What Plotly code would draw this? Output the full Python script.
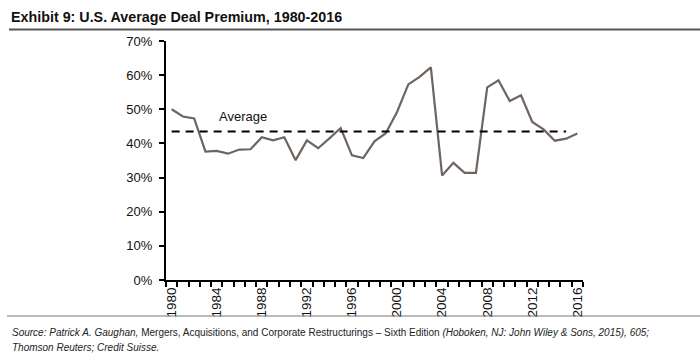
import plotly.graph_objects as go

years = list(range(1980, 2017))
premium = [50.0, 47.9, 47.3, 37.6, 37.8, 37.0, 38.2, 38.3, 41.8, 40.9, 41.8, 35.1,
           40.9, 38.6, 41.5, 44.5, 36.5, 35.7, 40.6, 43.0, 49.2, 57.3, 59.5, 62.3,
           30.6, 34.3, 31.4, 31.4, 56.4, 58.5, 52.4, 54.1, 46.3, 44.1, 40.8, 41.4, 42.9]
average = 43.5
avg_span = [1980, 2015]
tick_years = list(range(1980, 2017, 4))
y_ticks = [0, 10, 20, 30, 40, 50, 60, 70]
y_labels = [f"{v}%" for v in y_ticks]

FONT = "Liberation Sans, Arial, sans-serif"
L, R, T, B = 166, 117, 41, 84
PW, PH = 700 - L - R, 364 - T - B


def px_x(x):
    return (x - L) / PW


def px_y(y):
    return (364 - B - y) / PH


fig = go.Figure()
fig.add_trace(go.Scatter(x=years, y=premium, mode="lines",
                         line=dict(color="#6e6560", width=2.2), showlegend=False))
fig.add_trace(go.Scatter(x=avg_span, y=[average, average], mode="lines",
                         line=dict(color="#000000", width=2.2, dash="8px,6px"),
                         showlegend=False))

fig.add_annotation(x=1984, y=average + 4.3, text="Average", showarrow=False,
                   xanchor="left", font=dict(family=FONT, size=13, color="#111"))

fig.update_layout(
    width=700, height=364,
    margin=dict(l=L, r=R, t=T, b=B),
    plot_bgcolor="white", paper_bgcolor="white",
    font=dict(family=FONT, color="#111"),
    xaxis=dict(range=[1979.5, 2016.5], tickmode="array", tickvals=tick_years,
               ticktext=[str(y) for y in tick_years], tickangle=-90,
               ticks="", showgrid=False, zeroline=False,
               showline=True, linecolor="black", linewidth=2,
               tickfont=dict(family=FONT, size=13.5, color="#111"),
               minor=dict(ticks="outside", tick0=1979.5, dtick=1, ticklen=5,
                          tickwidth=2, tickcolor="black", showgrid=False)),
    yaxis=dict(range=[0, 70], tickmode="array", tickvals=y_ticks, ticktext=y_labels,
               ticks="outside", ticklen=5, tickwidth=2, tickcolor="black",
               ticklabelstandoff=4,
               showgrid=False, zeroline=False, showline=True, linecolor="black",
               linewidth=2, tickfont=dict(family=FONT, size=13, color="#111")),
)

# Title
fig.add_annotation(xref="paper", yref="paper", x=px_x(9), y=px_y(17),
                   xanchor="left", yanchor="middle", showarrow=False,
                   text="<b>Exhibit 9: U.S. Average Deal Premium, 1980-2016</b>",
                   font=dict(family=FONT, size=14.3, color="#111"))
# Title underline
fig.add_shape(type="line", xref="paper", yref="paper",
              x0=px_x(9), x1=px_x(700), y0=px_y(29.5), y1=px_y(29.5),
              line=dict(color="#555555", width=2))
# Bottom rule
fig.add_shape(type="line", xref="paper", yref="paper",
              x0=px_x(7), x1=px_x(700), y0=px_y(316), y1=px_y(316),
              line=dict(color="#777777", width=1))
# Source text
fig.add_annotation(xref="paper", yref="paper", x=px_x(10), y=px_y(332),
                   xanchor="left", yanchor="middle", showarrow=False,
                   text="<i>Source: Patrick A. Gaughan,</i> Mergers, Acquisitions, and Corporate "
                        "Restructurings – Sixth Edition <i>(Hoboken, NJ: John Wiley &amp; Sons, 2015), 605;</i>",
                   font=dict(family=FONT, size=10, color="#222"))
fig.add_annotation(xref="paper", yref="paper", x=px_x(10), y=px_y(347),
                   xanchor="left", yanchor="middle", showarrow=False,
                   text="<i>Thomson Reuters; Credit Suisse.</i>",
                   font=dict(family=FONT, size=10, color="#222"))

fig.write_html("out.html")
